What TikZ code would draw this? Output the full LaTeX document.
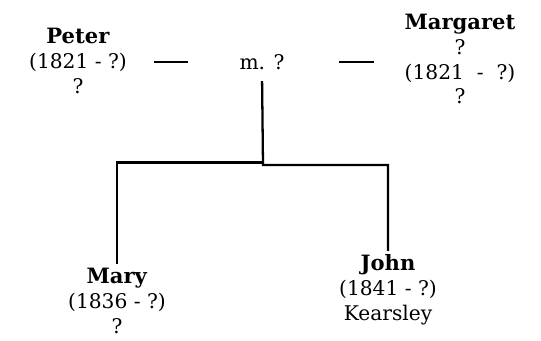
\documentclass[tikz,border=0pt]{standalone}
\usepackage{fontspec}
\setmainfont{DejaVu Serif}
\usetikzlibrary{positioning}

\newcommand{\pname}[1]{\textbf{\fontsize{12}{14.2}\selectfont #1}}

\begin{document}
\begin{tikzpicture}[
        person/.style={align=center, inner sep=2pt, font=\fontsize{11.5}{14.2}\selectfont},
        link/.style={line width=1.3pt},
        spouse/.style={line width=1.3pt}
    ]

        % Fix the frame of the picture
        \useasboundingbox (0, 0) rectangle (10.82, 6.8);

        % Parents and marriage
        \node[person] (peter) at (1.56, 5.58) {\pname{Peter}\\(1821 - ?)\\?};
        \node[person] (marr) at (5.24, 5.56) {m. ?};
        \node[person] (margaret) at (9.2, 5.62) {\pname{Margaret}\\?\\(1821\ \ -\ \ ?)\\?};

        % Children
        \node[person] (mary) at (2.34, 0.78) {\pname{Mary}\\(1836 - ?)\\?};
        \node[person] (john) at (7.76, 1.0) {\pname{John}\\(1841 - ?)\\Kearsley};

        % Short dashes between the spouses
        \draw[spouse, shorten <=4.6mm, shorten >=9.6mm] (peter.east |- marr.west) -- (marr.west);
        \draw[spouse, shorten <=10.2mm, shorten >=5.4mm] (marr.east) -- (margaret.west |- marr.east);

        % Descent lines
        \coordinate (forkL) at (5.26, 3.55);
        \coordinate (forkR) at (5.26, 3.50);
        \draw[link, shorten <=1.5mm] (marr.south) -- (forkR) -| (john.north);
        \draw[link] (forkL) -| (mary.north);

    \end{tikzpicture}
\end{document}
